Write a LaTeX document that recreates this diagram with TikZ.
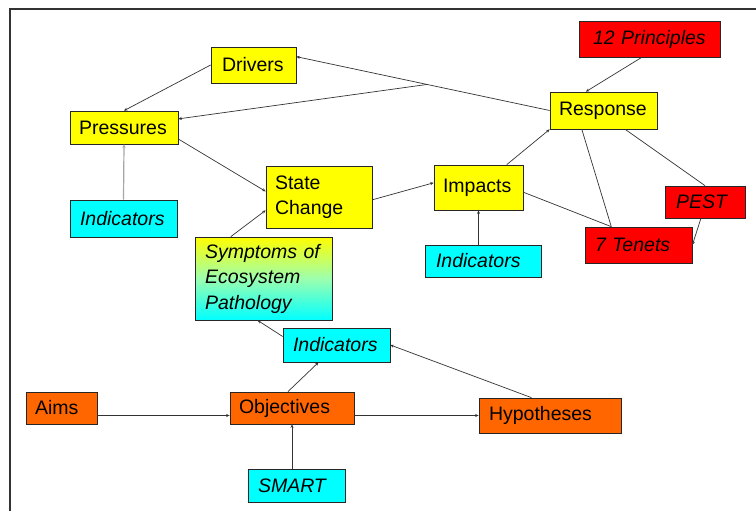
\documentclass[tikz,border=0pt]{standalone}
\usepackage{fontspec}
\setmainfont{Liberation Sans}
\usetikzlibrary{arrows.meta,calc}
\definecolor{orng}{HTML}{FF6600}
\definecolor{cyn}{HTML}{00FFFF}
\definecolor{yel}{HTML}{FFFF00}
\definecolor{rd}{HTML}{FF0000}
\definecolor{lineg}{HTML}{333333}
\tikzset{
  bx/.style={draw=black!85, line width=0.7pt, rectangle, align=left, inner ysep=0pt,
    font=\fontsize{19.5}{25.5}\selectfont, text=black},
  geo/.style n args={4}{minimum width=#1pt, minimum height=#2pt, inner xsep=#3pt, text width=#4pt},
  ybox/.style={bx, fill=yel},
  cbox/.style={bx, fill=cyn, font=\fontsize{19.5}{25.5}\selectfont\itshape},
  rbox/.style={bx, fill=rd, font=\fontsize{19.5}{25.5}\selectfont\itshape},
  obox/.style={bx, fill=orng},
  gbox/.style={bx, top color=yel, bottom color=cyn, middle color=yel!45!cyn!70!white, font=\fontsize{19.5}{25.5}\selectfont\itshape},
  conn/.style={draw=lineg, line width=0.7pt},
  arr/.style={conn, -{Stealth[length=3.5pt,width=3pt]}},
}
\begin{document}
\begin{tikzpicture}[x=1pt,y=-1pt]
\useasboundingbox (0,0) rectangle (756,511);
\fill[white] (0,0) rectangle (756,511);
\draw[line width=2pt, draw=black!80] (9.5,511) -- (9.5,9) -- (756,9);

% nodes
\node[ybox, geo={85}{36}{11}{63}] (drv) at (253.5,65) {Drivers};
\node[ybox, geo={108}{33}{9}{90}] (prs) at (124,127.5) {Pressures};
\node[rbox, geo={141}{36}{14}{113}] (p12) at (649.5,39) {12 Principles};
\node[ybox, geo={107}{37}{9}{89}] (rsp) at (603.5,110.5) {Response};
\node[cbox, geo={107}{37}{10}{87}] (indl) at (123.5,218.5) {Indicators};
\node[ybox, geo={106}{62}{9}{88}] (sc) at (319,197) {State\\Change};
\node[gbox, geo={137}{83}{10}{117}] (sym) at (263.5,278.5) {Symptoms of\\Ecosystem\\Pathology};
\node[ybox, geo={89}{45}{9}{71}] (imp) at (478.5,187.5) {Impacts};
\node[cbox, geo={116}{32}{11}{94}] (indm) at (483,261) {Indicators};
\node[rbox, geo={80}{32}{11}{58}] (pest) at (705,202) {PEST};
\node[rbox, geo={107}{36}{10}{87}] (ten) at (638.5,245) {7 Tenets};
\node[cbox, geo={107}{34}{10}{87}] (indb) at (336.5,345) {Indicators};
\node[obox, geo={71}{32}{9}{53}] (aims) at (61.5,408) {Aims};
\node[obox, geo={124}{32}{9}{106}] (obj) at (292,408) {Objectives};
\node[cbox, geo={97}{33}{10}{77}] (smart) at (296.5,485.5) {SMART};
\node[obox, geo={142}{35}{10}{122}] (hyp) at (550,415.5) {Hypotheses};

% connectors
\draw[arr] (drv.west) -- (prs.north);
\draw[arr] (rsp.west) -- (drv.11);
\coordinate (j) at ($(rsp.west)!0.484!(drv.11)$);
\draw[arr] (j) -- (prs.9);
\draw[arr] (p12.247) -- (rsp.133);
\draw[arr] (prs.348) -- (sc.174);
\draw[arr, draw=gray!70, line width=1.2pt] (indl.north) -- (prs.south);
\draw[arr] (sym.128) -- (sc.194);
\draw[arr] (sc.357) -- (imp.174);
\draw[arr] (imp.39) -- (rsp.south west);
\draw[conn] (imp.354) -- (ten.146);
\draw[conn] (rsp.221) -- (ten.146);
\draw[conn] (rsp.319) -- (pest.north);
\draw[arr] (pest.256) -- (ten.east);
\draw[arr] (imp.south |- indm.north) -- (imp.south);
\draw[arr] (indb.171) -- (sym.262);
\draw[arr] (obj.104) -- (indb.224);
\draw[arr] (hyp.136) -- (indb.east);
\draw[arr] (aims.east |- hyp.west) -- (obj.west |- hyp.west);
\draw[arr] (obj.east |- hyp.west) -- (hyp.west);
\draw[arr] (obj.south |- smart.north) -- (obj.south);
\end{tikzpicture}
\end{document}
